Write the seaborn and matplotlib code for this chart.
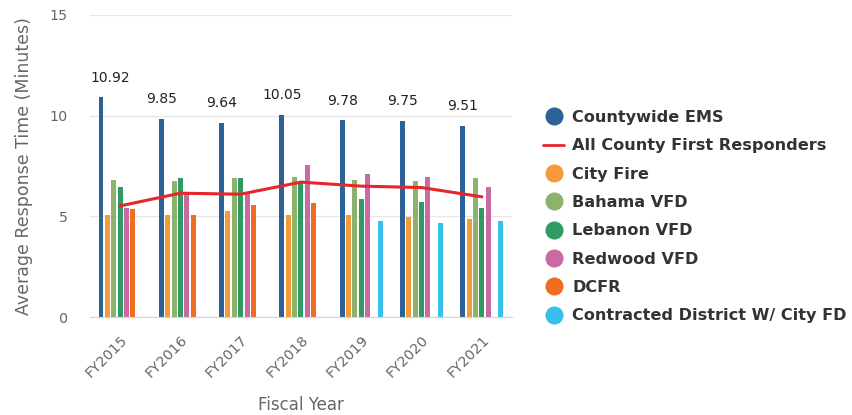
import numpy as np
import pandas as pd
import seaborn as sns
import matplotlib.pyplot as plt
from matplotlib.lines import Line2D

years = ["FY2015", "FY2016", "FY2017", "FY2018", "FY2019", "FY2020", "FY2021"]

countywide_ems = [10.92, 9.85, 9.64, 10.05, 9.78, 9.75, 9.51]
all_county = [5.52, 6.15, 6.10, 6.70, 6.50, 6.43, 5.97]
city_fire = [5.05, 5.05, 5.27, 5.05, 5.05, 4.97, 4.88]
bahama_vfd = [6.82, 6.75, 6.90, 6.97, 6.82, 6.75, 6.90]
lebanon_vfd = [6.45, 6.90, 6.90, 6.70, 5.85, 5.72, 5.42]
redwood_vfd = [5.42, 6.12, 6.10, 7.55, 7.10, 6.97, 6.45]
dcfr = [5.35, 5.05, 5.57, 5.65, np.nan, np.nan, np.nan]
contracted = [np.nan, np.nan, np.nan, np.nan, 4.75, 4.68, 4.75]

bar_series = ["Countywide EMS", "City Fire", "Bahama VFD", "Lebanon VFD",
              "Redwood VFD", "DCFR", "Contracted District W/ City FD"]
bar_values = [countywide_ems, city_fire, bahama_vfd, lebanon_vfd,
              redwood_vfd, dcfr, contracted]
bar_colors = ["#2d6299", "#f59a38", "#8db26b", "#2f9a62",
              "#c96aa2", "#f06c23", "#35c0ee"]
line_name = "All County First Responders"
line_color = "#e5262b"

rows = []
for name, vals in zip(bar_series, bar_values):
    for yr, v in zip(years, vals):
        rows.append({"Year": yr, "Agency": name, "Time": v})
df = pd.DataFrame(rows).dropna()

sns.set_style("white")
plt.rcParams["font.family"] = ["DejaVu Sans"]

fig = plt.figure(figsize=(8.52, 4.15), dpi=100)
ax = fig.add_axes([0.1056, 0.236, 0.4953, 0.728])

sns.barplot(
    data=df, x="Year", y="Time", hue="Agency",
    order=years, hue_order=bar_series, palette=bar_colors,
    width=0.74, gap=0.22, saturation=1, errorbar=None,
    linewidth=0, legend=False, ax=ax, zorder=2,
)

sns.lineplot(x=np.arange(len(years)), y=all_county, color=line_color,
             linewidth=2.2, ax=ax, legend=False, zorder=3)

# etichette sopra le barre Countywide EMS
labels = ax.bar_label(ax.containers[0], labels=[f"{v:.2f}" for v in countywide_ems],
                      padding=9, fontsize=10, color="#222222")
labels[0].xyann = (7, 9)

ax.set_xlim(-0.5, len(years) - 0.5)
ax.set_ylim(0, 15)
ax.set_yticks([0, 5, 10, 15])
ax.grid(axis="y", color="#e6e6e6", linewidth=1, zorder=0)
ax.set_axisbelow(True)
for s in ["top", "right", "left"]:
    ax.spines[s].set_visible(False)
ax.spines["bottom"].set_color("#ccd6eb")
ax.tick_params(axis="both", length=0, colors="#666666", labelsize=10.3)
ax.tick_params(axis="y", pad=16)
plt.setp(ax.get_xticklabels(), rotation=45, ha="right", rotation_mode="anchor")
ax.tick_params(axis="x", pad=11)
ax.set_xlabel("Fiscal Year", fontsize=12, color="#666666", labelpad=12)
ax.set_ylabel("Average Response Time (Minutes)", fontsize=12.5, color="#666666", labelpad=12)

handles = []
for name, c in zip(bar_series, bar_colors):
    handles.append(Line2D([], [], marker="o", linestyle="", markersize=12,
                          markerfacecolor=c, markeredgecolor=c, label=name))
handles.insert(1, Line2D([], [], color=line_color, linewidth=2, label=line_name))

leg = fig.legend(handles=handles, loc="center left", bbox_to_anchor=(0.628, 0.478),
                 frameon=False, borderpad=0, handlelength=1.3, handletextpad=0.5,
                 labelspacing=0.83, prop={"weight": "bold", "size": 11.6})
for t in leg.get_texts():
    t.set_color("#333333")

fig.savefig("out.png", dpi=100)
plt.close()
